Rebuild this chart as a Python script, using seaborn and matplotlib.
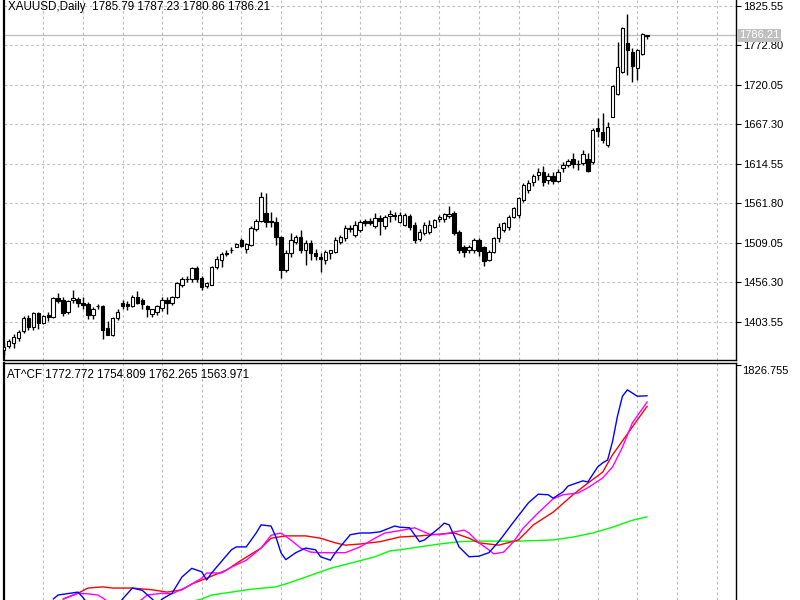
import numpy as np
import pandas as pd
import matplotlib
matplotlib.use("Agg")
import matplotlib.pyplot as plt
import seaborn as sns

# ---------------- data ----------------
symbol_title = "XAUUSD,Daily  1785.79 1787.23 1780.86 1786.21"
ind_title = "AT^CF 1772.772 1754.809 1762.265 1563.971"
last_price = 1786.21

price_ticks = [1403.55, 1456.30, 1509.05, 1561.80, 1614.55, 1667.30, 1720.05, 1772.80, 1825.55]
ind_tick = 1826.755

opens = [1366, 1371, 1375, 1382, 1391, 1408, 1396, 1415, 1402, 1412,
         1410, 1435, 1432, 1416, 1432, 1434, 1429, 1427, 1412, 1425,
         1424, 1395, 1386, 1408, 1428, 1427, 1425, 1436, 1432, 1425,
         1414, 1416, 1422, 1432, 1428, 1437, 1453, 1461, 1460, 1475,
         1462, 1451, 1453, 1477, 1486, 1496, 1500, 1504, 1513, 1501,
         1506, 1528, 1538, 1549, 1538, 1537, 1517, 1473, 1495, 1510,
         1517, 1500, 1509, 1496, 1490, 1486, 1496, 1497, 1510, 1515,
         1528, 1520, 1526, 1538, 1538, 1532, 1542, 1531, 1545, 1546,
         1537, 1533, 1545, 1533, 1514, 1522, 1524, 1530, 1541, 1541,
         1545, 1549, 1523, 1503, 1500, 1499, 1513, 1503, 1486, 1497,
         1516, 1526, 1530, 1543, 1546, 1566, 1580, 1590, 1600, 1604,
         1593, 1598, 1592, 1609, 1613, 1621, 1614, 1616, 1621, 1617,
         1663, 1657, 1640, 1677, 1708, 1737, 1776, 1764, 1743, 1761,
         1785.79]
highs = [1375, 1381, 1387, 1393, 1411, 1413, 1417, 1417, 1413, 1417,
         1437, 1442, 1436, 1433, 1446, 1437, 1436, 1430, 1423, 1427,
         1426, 1404, 1410, 1421, 1432, 1431, 1439, 1445, 1435, 1426,
         1421, 1426, 1437, 1437, 1438, 1457, 1463, 1465, 1477, 1478,
         1464, 1456, 1478, 1491, 1497, 1499, 1503, 1509, 1516, 1509,
         1531, 1541, 1577, 1576, 1550, 1543, 1518, 1499, 1522, 1520,
         1526, 1513, 1513, 1501, 1496, 1500, 1500, 1517, 1520, 1533,
         1533, 1538, 1540, 1541, 1542, 1549, 1546, 1546, 1553, 1550,
         1550, 1549, 1548, 1537, 1527, 1537, 1539, 1541, 1546, 1549,
         1558, 1551, 1526, 1506, 1506, 1516, 1516, 1505, 1500, 1517,
         1535, 1537, 1546, 1557, 1570, 1589, 1593, 1601, 1609, 1612,
         1602, 1604, 1607, 1617, 1621, 1629, 1620, 1633, 1629, 1662,
         1676, 1683, 1670, 1720, 1777, 1797, 1815, 1769, 1768, 1789,
         1787.23]
lows = [1359, 1368, 1369, 1378, 1389, 1393, 1392, 1394, 1400, 1405,
        1409, 1428, 1411, 1414, 1428, 1423, 1420, 1407, 1407, 1420,
        1381, 1386, 1385, 1406, 1420, 1419, 1423, 1427, 1420, 1410,
        1410, 1412, 1418, 1414, 1426, 1435, 1450, 1457, 1457, 1457,
        1446, 1449, 1452, 1474, 1476, 1491, 1496, 1503, 1504, 1496,
        1505, 1525, 1537, 1530, 1530, 1506, 1462, 1470, 1490, 1507,
        1495, 1479, 1486, 1486, 1470, 1480, 1487, 1495, 1507, 1512,
        1524, 1517, 1524, 1532, 1533, 1529, 1520, 1528, 1537, 1540,
        1535, 1531, 1526, 1509, 1512, 1520, 1521, 1529, 1537, 1537,
        1542, 1519, 1495, 1490, 1495, 1495, 1491, 1478, 1484, 1495,
        1510, 1523, 1526, 1542, 1542, 1564, 1576, 1585, 1593, 1585,
        1588, 1588, 1590, 1603, 1610, 1609, 1606, 1613, 1604, 1615,
        1650, 1642, 1637, 1677, 1707, 1736, 1733, 1724, 1727, 1760,
        1780.86]
closes = [1370, 1378, 1383, 1390, 1408, 1396, 1415, 1402, 1411, 1410,
          1435, 1431, 1415, 1431, 1435, 1428, 1426, 1412, 1420, 1424,
          1393, 1386, 1408, 1417, 1425, 1424, 1436, 1429, 1427, 1420,
          1420, 1424, 1432, 1429, 1437, 1455, 1461, 1460, 1475, 1460,
          1450, 1455, 1477, 1488, 1494, 1494, 1499, 1507, 1505, 1508,
          1529, 1538, 1570, 1537, 1537, 1517, 1473, 1495, 1513, 1517,
          1500, 1509, 1496, 1491, 1487, 1497, 1499, 1513, 1517, 1529,
          1529, 1533, 1537, 1535, 1535, 1542, 1538, 1543, 1547, 1545,
          1546, 1546, 1530, 1513, 1524, 1533, 1533, 1539, 1543, 1547,
          1548, 1522, 1499, 1497, 1503, 1513, 1498, 1485, 1497, 1515,
          1530, 1535, 1543, 1555, 1569, 1586, 1589, 1598, 1604, 1590,
          1598, 1592, 1604, 1613, 1619, 1614, 1615, 1628, 1605, 1660,
          1659, 1646, 1664, 1719, 1744, 1796, 1767, 1745, 1767, 1788,
          1786.21]

blue_bars = [10, 11, 15, 16, 17, 20, 23, 24, 26, 28, 30, 31, 32, 34, 36, 38, 40, 41, 42, 46,
             47, 49, 51, 52, 54, 55, 56, 57, 59, 61, 63, 64, 66, 67, 70, 72, 74, 76, 79, 80,
             82, 84, 85, 88, 89, 90, 92, 94, 96, 98, 100, 103, 106, 108, 110, 111, 113, 114, 117, 118,
             120, 121, 122, 123, 124, 125, 126, 128, 130]
blue_vals = [1422, 1429, 1434, 1425, 1413, 1403, 1410, 1422, 1441, 1437, 1422, 1413, 1422, 1432, 1460, 1475, 1469, 1455, 1467, 1507,
             1512, 1512, 1536, 1550, 1548, 1529, 1502, 1490, 1502, 1510, 1507, 1495, 1489, 1502, 1533, 1536, 1536, 1538, 1548, 1546,
             1545, 1521, 1524, 1545, 1553, 1550, 1512, 1495, 1496, 1502, 1521, 1555, 1588, 1603, 1602, 1596, 1607, 1617, 1626, 1624,
             1650, 1657, 1662, 1694, 1738, 1772, 1783, 1772, 1772.772]

magenta_bars = [12, 14, 15, 17, 19, 20, 22, 25, 28, 29, 32, 34, 37, 40, 41, 44, 46, 49, 52, 54,
                56, 58, 60, 62, 64, 67, 69, 72, 75, 77, 80, 83, 86, 88, 90, 93, 94, 96, 98, 99,
                101, 103, 105, 108, 111, 113, 116, 118, 121, 123, 125, 127, 130]
magenta_vals = [1422, 1429, 1432, 1431, 1429, 1424, 1412, 1406, 1422, 1429, 1432, 1431, 1443, 1458, 1467, 1467, 1477, 1489, 1510, 1532,
                1536, 1524, 1510, 1503, 1502, 1502, 1502, 1512, 1527, 1536, 1540, 1545, 1534, 1533, 1536, 1541, 1536, 1519, 1507, 1500,
                1503, 1521, 1545, 1571, 1595, 1602, 1605, 1614, 1631, 1650, 1684, 1726, 1762.265]

red_bars = [12, 15, 17, 20, 22, 26, 30, 33, 36, 38, 41, 45, 48, 52, 54, 57, 61, 64, 67, 69,
            72, 76, 80, 84, 88, 91, 94, 96, 100, 104, 107, 111, 115, 118, 121, 123, 127, 130]
red_vals = [1422, 1432, 1441, 1443, 1441, 1441, 1438, 1434, 1438, 1448, 1458, 1472, 1489, 1510, 1527, 1531, 1531, 1527, 1519, 1515,
            1517, 1521, 1529, 1531, 1534, 1536, 1527, 1519, 1515, 1524, 1550, 1572, 1602, 1622, 1641, 1671, 1719, 1754.809]

green_bars = [38, 40, 42, 46, 50, 55, 58, 62, 66, 71, 75, 78, 80, 84, 88, 92, 96, 100, 104, 111,
              115, 119, 123, 127, 130]
green_vals = [1418, 1422, 1429, 1434, 1439, 1443, 1451, 1463, 1475, 1486, 1495, 1505, 1507, 1512, 1517, 1521, 1522, 1522, 1522, 1524,
              1529, 1536, 1546, 1558, 1563.971]

# ---------------- style ----------------
sns.set_theme(style="white")
plt.rcParams["font.family"] = ["Liberation Sans", "DejaVu Sans"]
FS = 8.0
FS_T = 8.4
GRID = dict(color="#bdbdbd", linestyle=(0, (2.4, 2.4)), linewidth=0.8)

W, H = 800, 600
fig = plt.figure(figsize=(8, 6), dpi=100)
fig.patch.set_facecolor("white")


def px_axes(l, t, r, b):
    return fig.add_axes([l / W, 1 - b / H, (r - l) / W, (b - t) / H])


ax = px_axes(4, 0, 736, 359.5)
ax2 = px_axes(4, 362.5, 736, 600)

# bar i is drawn at pixel 3.7 + 4.95 * i
x0 = (4 - 3.7) / 4.95
x1 = (736 - 3.7) / 4.95

# ---------------- candles ----------------
df = pd.DataFrame({"open": opens, "high": highs, "low": lows, "close": closes})
df["bar"] = np.arange(len(df))
bull = df["close"] >= df["open"]
body_lo = np.minimum(df["open"], df["close"])
body_h = np.maximum(np.abs(df["close"] - df["open"]), 0.4)

ax.vlines(df["bar"], df["low"], df["high"], color="black", linewidth=1.0, zorder=3)
ax.bar(df["bar"], body_h, bottom=body_lo, width=0.7,
       color=np.where(bull, "white", "black"), edgecolor="black", linewidth=0.8, zorder=4)

ax.axhline(last_price, color="#c0c0c0", linewidth=1.0, zorder=2)

ax.set_xlim(x0, x1)
ax.set_ylim(1833.57 - 359.5 * 1.3368, 1833.57)
ax.set_xticks(np.arange(8, 148, 8))
ax.set_yticks(price_ticks)
ax.set_yticklabels([f"{v:.2f}" for v in price_ticks], fontsize=FS)
ax.grid(True, axis="both", **GRID)
ax.set_axisbelow(True)

# ---------------- indicator lines (seaborn) ----------------
lines = pd.concat([
    pd.DataFrame({"bar": blue_bars, "value": blue_vals, "series": "blue"}),
    pd.DataFrame({"bar": magenta_bars, "value": magenta_vals, "series": "magenta"}),
    pd.DataFrame({"bar": red_bars, "value": red_vals, "series": "red"}),
    pd.DataFrame({"bar": green_bars, "value": green_vals, "series": "green"}),
], ignore_index=True)
palette = {"blue": "#0000ff", "magenta": "#ff00ff", "red": "#ff0000", "green": "#00ff00"}
sns.lineplot(data=lines, x="bar", y="value", hue="series", palette=palette,
             hue_order=["green", "red", "magenta", "blue"],
             estimator=None, sort=False, linewidth=1.0, legend=False, ax=ax2)

ax2.set_xlim(x0, x1)
ax2.set_ylim(1826.755 - 235.5 * 1.7256, 1826.755 + 2 * 1.7256)
ax2.set_xticks(np.arange(8, 148, 8))
ax2.set_yticks([ind_tick])
ax2.set_yticklabels([""])
ax2.grid(True, axis="x", **GRID)
ax2.set_axisbelow(True)
ax2.set_xlabel("")
ax2.set_ylabel("")

# ---------------- axes cosmetics ----------------
for a in (ax, ax2):
    a.set_facecolor("white")
    a.yaxis.tick_right()
    a.tick_params(axis="y", which="both", right=True, left=False, length=3.5, width=0.8,
                  direction="out", pad=1.5, colors="black", labelsize=FS)
    a.tick_params(axis="x", which="both", bottom=False, top=False, labelbottom=False)
    for s in a.spines.values():
        s.set_color("black")
        s.set_linewidth(1.0)
    a.spines["left"].set_linewidth(1.6)

ax.spines["top"].set_visible(False)
ax2.spines["bottom"].set_visible(False)

# texts
ax.text(4 / 732, 1 - 7 / 359.5, symbol_title, transform=ax.transAxes,
        fontsize=FS_T, va="center", ha="left", color="black")
ax2.text(3 / 732, 1 - 12.5 / 237.5, ind_title, transform=ax2.transAxes,
         fontsize=FS_T, va="center", ha="left", color="black")
ax2.text(1 + 6 / 732, 1 - 8 / 237.5, f"{ind_tick:.3f}", transform=ax2.transAxes,
         fontsize=FS, va="center", ha="left", color="black")

# last price label
ax.text(1 + 3 / 732, last_price, f"{last_price:.2f}", transform=ax.get_yaxis_transform(),
        fontsize=FS, va="center", ha="left", color="white", zorder=10,
        bbox=dict(boxstyle="square,pad=0.15", facecolor="#c0c0c0", edgecolor="none"))

fig.savefig("out.png", dpi=100, facecolor="white")
